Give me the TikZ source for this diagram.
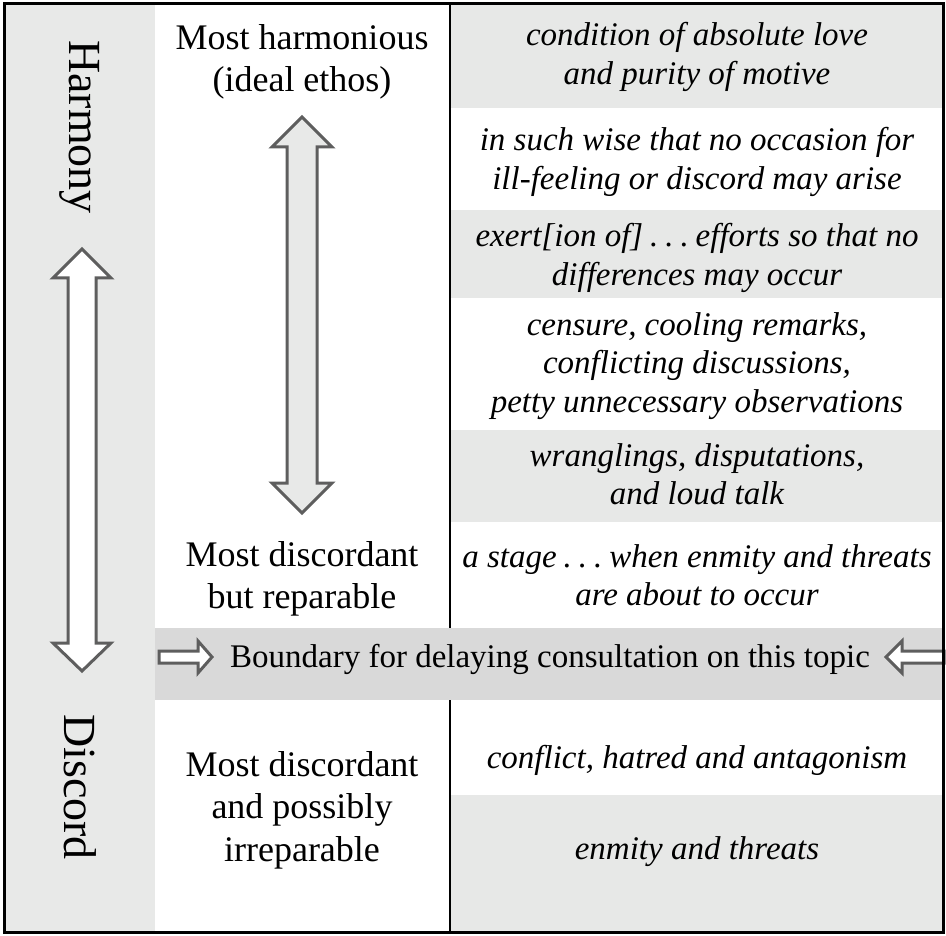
\documentclass[tikz,border=0pt]{standalone}
\usepackage{fontspec}
\setmainfont{Liberation Serif}
\usetikzlibrary{positioning}
\definecolor{sidegrey}{HTML}{E8E9E8}
\definecolor{rowgrey}{HTML}{E7E8E7}
\definecolor{bandgrey}{HTML}{D9D9D9}
\definecolor{arrowgrey}{HTML}{5E5E5E}
\newcommand{\gapdots}{\hspace{0.21em}.\hspace{0.21em}.\hspace{0.21em}.\hspace{0.21em}}
\tikzset{
    every node/.style={inner sep=0pt},
    pole/.style={font=\fontsize{46}{50}\selectfont,rotate=-90},
    level/.style={font=\fontsize{36}{42.5}\selectfont,align=center},
    quote/.style={font=\fontsize{33}{38.5}\selectfont\itshape,align=center},
    boundary/.style={font=\fontsize{33}{38}\selectfont},
    hollow/.style={draw=arrowgrey,line width=3pt,fill=white,line join=miter},
    rule/.style={draw=black,line width=2pt}
}

\begin{document}
\begin{tikzpicture}[x=1pt,y=-1pt]
\useasboundingbox (0,0) rectangle (946,936);

% backgrounds
\fill[sidegrey] (4,4) rectangle (155,932);
\fill[rowgrey] (450,4) rectangle (943,108);
\fill[rowgrey] (450,210) rectangle (943,298);
\fill[rowgrey] (450,430) rectangle (943,522);
\fill[rowgrey] (450,795) rectangle (943,932);
\fill[bandgrey] (155,628) rectangle (943,700);

% column labels
\node[pole] (harmony) at (80,127) {Harmony};
\node[pole] (discord) at (80,787) {Discord};

\node[level] (ideal) at (302,62) {Most harmonious\\(ideal ethos)};
\node[level] (reparable) at (302,579) {Most discordant\\but reparable};
\node[level] (irreparable) at (302,810) {Most discordant\\and possibly\\irreparable};

% quotations
\node[quote] (love) at (697,57) {condition of absolute love\\and purity of motive};
\node[quote] (wise) at (697,162) {in such wise that no occasion for\\ill-feeling or discord may arise};
\node[quote] (exert) at (697,258) {exert[ion of]\gapdots efforts so that no\\differences may occur};
\node[quote] (censure) at (697,366) {censure, cooling remarks,\\conflicting discussions,\\petty unnecessary observations};
\node[quote] (wrangle) at (697,474) {wranglings, disputations,\\and loud talk};
\node[quote] (stage) at (697,575) {a stage\gapdots when enmity and threats\\are about to occur};
\node[quote] (conflict) at (697,760) {conflict, hatred and antagonism};
\node[quote] (enmity) at (697,852) {enmity and threats};

\node[boundary] (limit) at (550,659) {Boundary for delaying consultation on this topic};

% arrows
\draw[hollow] (82,249) -- (111,278) -- (96,278) -- (96,643) -- (111,643) -- (82,671)
  -- (53,643) -- (68,643) -- (68,278) -- (53,278) -- cycle;
\draw[hollow,fill=sidegrey] (302,117) -- (332,147) -- (317,147) -- (317,483) -- (332,483)
  -- (302,513) -- (272,483) -- (287,483) -- (287,147) -- (272,147) -- cycle;
\draw[hollow] (159,651) -- (198,651) -- (198,641) -- (212,657) -- (198,673) -- (198,663)
  -- (159,663) -- cycle;
\draw[hollow] (886,657) -- (902,641) -- (902,651) -- (944,651) -- (944,663) -- (902,663)
  -- (902,673) -- cycle;

% rules
\draw[rule] (450,4) -- (450,628);
\draw[rule] (450,700) -- (450,932);
\draw[line width=3pt] (4,4) rectangle (943,932);
\end{tikzpicture}
\end{document}
